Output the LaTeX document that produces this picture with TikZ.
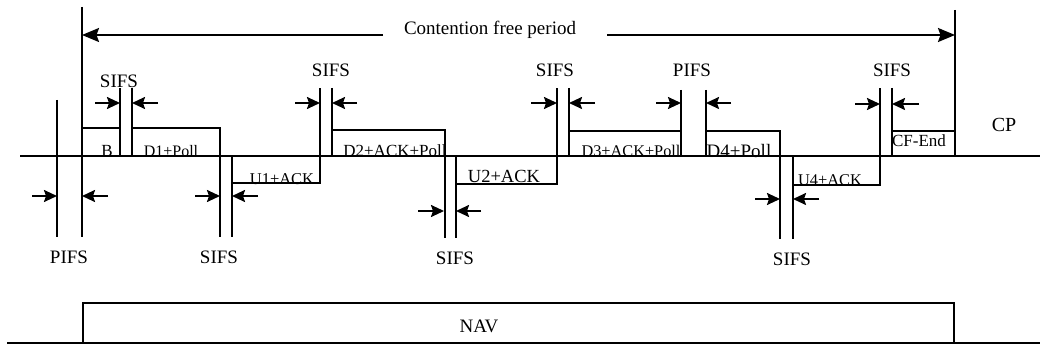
\documentclass[tikz,border=0pt]{standalone}
\usepackage{fontspec}
\setmainfont{Liberation Serif}
\usetikzlibrary{arrows.meta}
\tikzset{
  ln/.style={line width=2pt},
  dimarrow/.style={line width=2pt, -{Stealth[length=13pt,width=12pt,inset=2pt]}},
  bigarrow/.style={line width=2pt, -{Stealth[length=17pt,width=14pt,inset=2.5pt]}},
  lab/.style={font=\fontsize{19}{19}\selectfont, inner sep=0pt, anchor=base},
  blab/.style={font=\fontsize{17}{17}\selectfont, inner sep=0pt, anchor=base},
}
\begin{document}
\begin{tikzpicture}[x=1pt,y=-1pt]
\useasboundingbox (0,0) rectangle (1040,347);
% main time line
\draw[ln] (20,156) -- (1040,156);
% contention free period borders
\draw[ln] (82,7) -- (82,237);
\draw[ln] (955,10) -- (955,156);
% PIFS at start
\draw[ln] (57,100) -- (57,237);
\draw[dimarrow] (32,196) -- (57,196);
\draw[dimarrow] (108,196) -- (82,196);
% B frame
\draw[ln] (82,128) -- (120,128);
% SIFS 1
\draw[ln] (120,88) -- (120,156);
\draw[ln] (132,88) -- (132,156);
\draw[dimarrow] (95,103) -- (120,103);
\draw[dimarrow] (158,103) -- (132,103);
% D1+Poll
\draw[ln] (132,128) -- (220,128) -- (220,237);
% SIFS 2 (lower)
\draw[ln] (232,156) -- (232,237);
\draw[dimarrow] (195,196) -- (220,196);
\draw[dimarrow] (258,196) -- (232,196);
% U1+ACK
\draw[ln] (232,183) -- (320,183) -- (320,88);
% SIFS 3
\draw[ln] (332,88) -- (332,156);
\draw[dimarrow] (295,103) -- (320,103);
\draw[dimarrow] (357,103) -- (332,103);
% D2+ACK+Poll
\draw[ln] (332,130) -- (445,130) -- (445,238);
% SIFS 4 (lower)
\draw[ln] (456,156) -- (456,238);
\draw[dimarrow] (418,211) -- (444,211);
\draw[dimarrow] (481,211) -- (456,211);
% U2+ACK
\draw[ln] (456,184) -- (557,184) -- (557,88);
% SIFS 5
\draw[ln] (569,88) -- (569,156);
\draw[dimarrow] (531,103) -- (557,103);
\draw[dimarrow] (595,103) -- (569,103);
% D3+ACK+Poll
\draw[ln] (569,131) -- (681,131);
% PIFS (top)
\draw[ln] (681,90) -- (681,156);
\draw[ln] (706,90) -- (706,156);
\draw[dimarrow] (656,103) -- (681,103);
\draw[dimarrow] (731,103) -- (706,103);
% D4+Poll
\draw[ln] (706,131) -- (780,131) -- (780,239);
% SIFS 6 (lower)
\draw[ln] (793,156) -- (793,239);
\draw[dimarrow] (755,199) -- (780,199);
\draw[dimarrow] (819,199) -- (793,199);
% U4+ACK
\draw[ln] (793,185) -- (880,185) -- (880,88);
% SIFS 7
\draw[ln] (892,88) -- (892,156);
\draw[dimarrow] (855,104) -- (880,104);
\draw[dimarrow] (919,104) -- (892,104);
% CF-End
\draw[ln] (892,131) -- (955,131);
% contention free period arrow
\node[lab] (cfp) at (490,35) {Contention free period};
\draw[bigarrow] (383,35) -- (82,35);
\draw[bigarrow] (607,35) -- (955,35);
% NAV
\draw[ln] (7,343) -- (1040,343);
\draw[ln] (83,343) -- (83,303) -- (954,303) -- (954,343);
\node[lab] (nav) at (479,332) {NAV};
% labels top
\node[lab] (s1) at (119,88) {SIFS};
\node[lab] (s3) at (331,77) {SIFS};
\node[lab] (s5) at (555,77) {SIFS};
\node[lab] (p2) at (692,77) {PIFS};
\node[lab] (s7) at (892,77) {SIFS};
% labels bottom
\node[lab] (p1) at (69,263) {PIFS};
\node[lab] (s2) at (219,263) {SIFS};
\node[lab] (s4) at (455,264) {SIFS};
\node[lab] (s6) at (792,265) {SIFS};
% frame labels
\node[blab] (b) at (107,157) {B};
\node[blab, font=\fontsize{16}{16}\selectfont] (d1) at (171,157) {D1+Poll};
\node[blab, font=\fontsize{16.5}{16}\selectfont] (u1) at (282,185) {U1+ACK};
\node[blab] (d2) at (395,157) {D2+ACK+Poll};
\node[blab, font=\fontsize{18.5}{18}\selectfont] (u2) at (504,183) {U2+ACK};
\node[blab, font=\fontsize{16.3}{16}\selectfont] (d3) at (631,157) {D3+ACK+Poll};
\node[blab, font=\fontsize{19}{19}\selectfont] (d4) at (739,158) {D4+Poll};
\node[blab, font=\fontsize{16.4}{16}\selectfont] (u4) at (830,186) {U4+ACK};
\node[blab] (cfe) at (919,147) {CF-End};
\node[lab, font=\fontsize{20}{20}\selectfont] (cp) at (1004,132) {CP};
\end{tikzpicture}
\end{document}
